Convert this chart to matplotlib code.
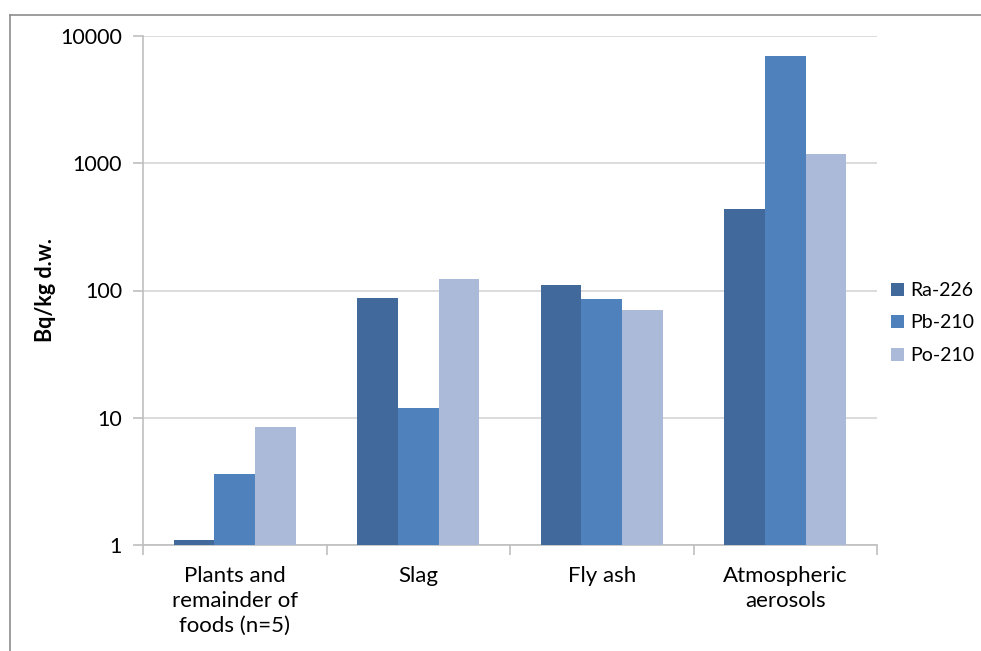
import matplotlib
matplotlib.use("Agg")
import matplotlib.pyplot as plt
import numpy as np
from matplotlib.lines import Line2D

plt.rcParams['font.family'] = ['Lato', 'DejaVu Sans']

categories = ["Plants and\nremainder of\nfoods (n=5)", "Slag", "Fly ash", "Atmospheric\naerosols"]
series = ["Ra-226", "Pb-210", "Po-210"]
ra226 = [1.1, 88, 110, 435]
pb210 = [3.6, 12, 85, 7000]
po210 = [8.4, 123, 70, 1190]
yticks = [1, 10, 100, 1000, 10000]
colors = ["#41699C", "#4F81BD", "#AABAD8"]

W, H = 981, 651
fig = plt.figure(figsize=(W/100, H/100), dpi=100)
ax = fig.add_axes([143/W, 1-545/H, (877-143)/W, (545-36)/H])

x = np.arange(len(categories))
w = 0.222
for i, (vals, c, name) in enumerate(zip([ra226, pb210, po210], colors, series)):
    ax.bar(x + (i-1)*w, vals, width=w, color=c, label=name, zorder=3, bottom=0)

ax.set_yscale('log')
ax.set_ylim(1, 10000)
ax.set_xlim(-0.5, 3.5)
ax.set_yticks(yticks)
ax.set_yticklabels([str(v) for v in yticks], fontsize=15.5)
ax.minorticks_off()
ax.yaxis.grid(True, color="#D9D9D9", linewidth=1.3, zorder=0)
ax.set_xticks(x)
ax.set_xticklabels(categories, fontsize=16, linespacing=1.3)
ax.set_xticks(np.arange(-0.5, 4.0, 1.0), minor=True)
ax.tick_params(axis='x', which='major', length=0, pad=15)
ax.tick_params(axis='x', which='minor', length=7, color="#BFBFBF", width=1.2)
ax.tick_params(axis='y', length=7, color="#BFBFBF", width=1.2, pad=8)
for s in ['top', 'right']:
    ax.spines[s].set_visible(False)
for s in ['left', 'bottom']:
    ax.spines[s].set_color("#BFBFBF")
    ax.spines[s].set_linewidth(1.2)

fig.text(45/W, 1-290/H, "Bq/kg d.w.", rotation=90, fontsize=15.5, fontweight='bold',
         ha='center', va='center')

leg = ax.legend(loc='center left', bbox_to_anchor=(891/W, 1-323/H), bbox_transform=fig.transFigure,
                frameon=False, fontsize=14, handlelength=0.65, handleheight=0.65,
                handletextpad=0.35, labelspacing=0.8, borderaxespad=0, borderpad=0)

# chart border
fig.add_artist(Line2D([10/W, 10/W], [0, 1-15/H], transform=fig.transFigure, color="#8C8C8C", lw=1.2))
fig.add_artist(Line2D([10/W, 1], [1-15/H, 1-15/H], transform=fig.transFigure, color="#8C8C8C", lw=1.2))

fig.savefig("out.png", dpi=100, facecolor='white')
